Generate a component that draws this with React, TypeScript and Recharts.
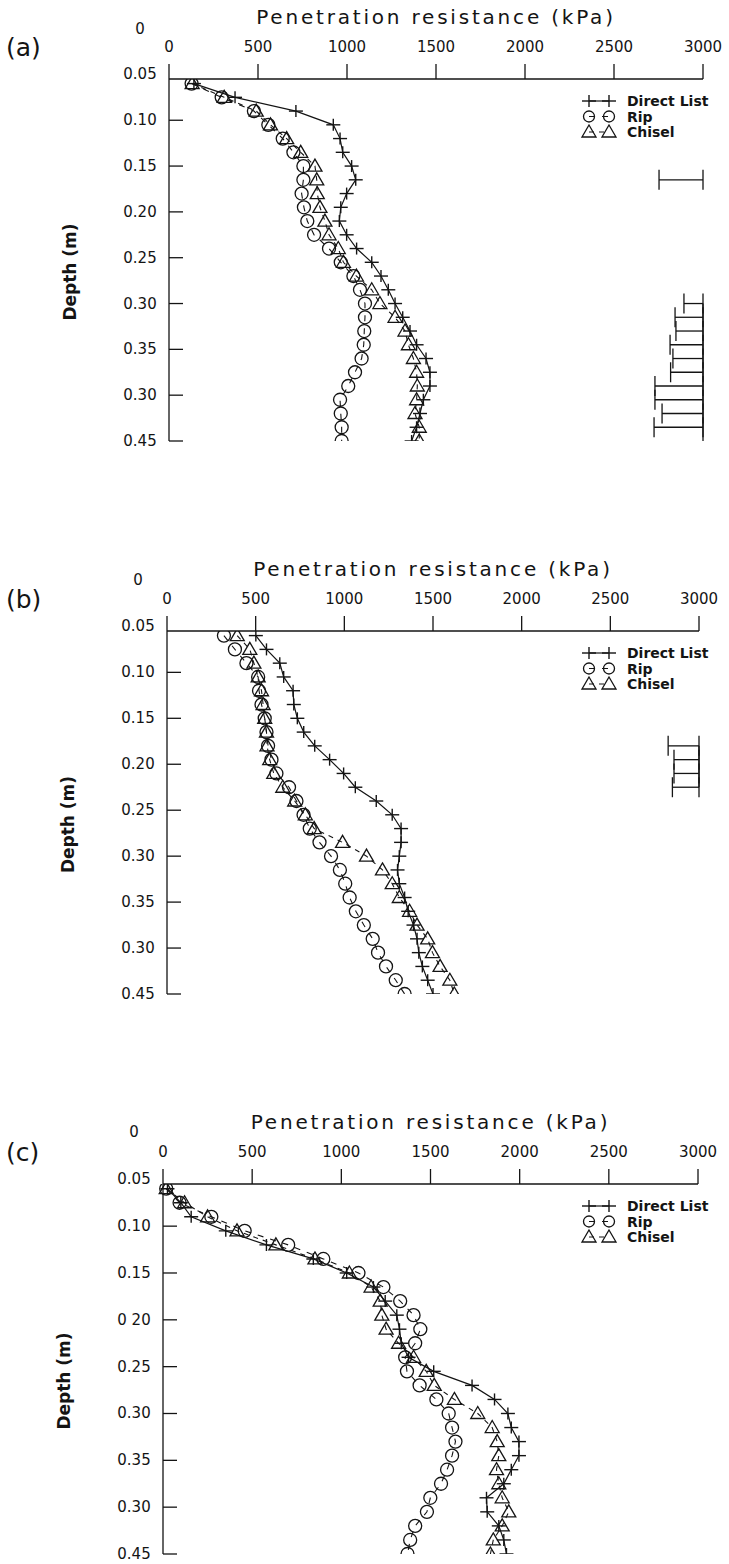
import React from 'react';
import { ScatterChart, Scatter, XAxis, YAxis, ErrorBar, ReferenceLine, Legend } from 'recharts';

const FONT = '"DejaVu Sans", "Liberation Sans", sans-serif';
const INK = '#141414';

// Sampling depths (m) shared by every profile
const depths = [0.06, 0.075, 0.09, 0.105, 0.12, 0.135, 0.15, 0.165, 0.18, 0.195, 0.21, 0.225, 0.24, 0.255,
  0.27, 0.285, 0.30, 0.315, 0.33, 0.345, 0.36, 0.375, 0.39, 0.405, 0.42, 0.435, 0.45];

const seriesNames = ['Direct List', 'Rip', 'Chisel'];
const resistanceTicks = [0, 500, 1000, 1500, 2000, 2500, 3000];
const depthTicks = [0, 0.05, 0.1, 0.15, 0.2, 0.25, 0.3, 0.35, 0.4, 0.45];
const depthTickLabelsAB = ['0', '0.05', '0.10', '0.15', '0.20', '0.25', '0.30', '0.35', '0.30', '0.45'];
const depthTickLabelsC = ['0', '0.05', '0.10', '0.15', '0 20', '0.25', '0.30', '0.35', '0.30', '0.45'];

// (a) penetration resistance, kPa
const aDirectList = [140, 371, 713, 923, 961, 976, 1026, 1049, 998, 965, 957, 998, 1054, 1139, 1191, 1232, 1270,
  1313, 1354, 1391, 1444, 1466, 1466, 1429, 1410, 1391, 1363];
const aRip = [127, 296, 477, 558, 639, 699, 755, 755, 745, 758, 777, 815, 899, 965, 1036, 1073, 1101, 1101, 1097,
  1094, 1082, 1045, 1007, 961, 965, 970, 970];
const aChisel = [130, 310, 490, 570, 661, 740, 820, 830, 833, 848, 876, 899, 951, 980, 1053, 1139, 1185, 1270, 1326,
  1345, 1373, 1391, 1395, 1391, 1382, 1406, 1406];
const aLsdDepths = [0.165, 0.30, 0.315, 0.33, 0.345, 0.36, 0.375, 0.39, 0.405, 0.42, 0.435];
const aLsdWidths = [247, 107, 157, 152, 185, 169, 182, 270, 270, 230, 275];
const aLsdSpan = [0.30, 0.45];

// (b)
const bDirectList = [501, 561, 636, 658, 711, 715, 735, 771, 833, 917, 996, 1062, 1180, 1270, 1320, 1320, 1310,
  1300, 1310, 1340, 1360, 1390, 1410, 1420, 1440, 1470, 1500];
const bRip = [321, 383, 448, 514, 519, 533, 551, 561, 570, 589, 617, 688, 730, 770, 805, 860, 925, 975, 1005, 1030,
  1065, 1110, 1160, 1190, 1235, 1290, 1340];
const bChisel = [396, 467, 490, 514, 533, 542, 551, 561, 564, 579, 602, 653, 720, 780, 830, 990, 1125, 1215, 1270,
  1310, 1368, 1410, 1470, 1497, 1540, 1595, 1620];
const bLsdDepths = [0.18, 0.195, 0.21, 0.225];
const bLsdWidths = [174, 141, 141, 150];
const bLsdSpan = [0.18, 0.225];

// (c)
const cDirectList = [25, 100, 158, 352, 580, 843, 1030, 1180, 1246, 1311, 1326, 1336, 1377, 1518, 1733, 1859, 1934,
  1953, 1996, 1996, 1953, 1911, 1814, 1818, 1883, 1911, 1926];
const cRip = [18, 93, 271, 458, 702, 899, 1096, 1236, 1330, 1405, 1443, 1414, 1358, 1368, 1439, 1533, 1602, 1621,
  1640, 1621, 1593, 1559, 1499, 1480, 1414, 1386, 1371];
const cChisel = [18, 121, 250, 415, 633, 852, 1045, 1167, 1218, 1227, 1251, 1321, 1405, 1476, 1521, 1634, 1765, 1846,
  1874, 1883, 1870, 1883, 1902, 1939, 1902, 1852, 1836];

const CrossMark = (p: any) => (
  <g stroke={INK} strokeWidth={1.4}>
    <line x1={p.cx - 7} x2={p.cx + 7} y1={p.cy} y2={p.cy} />
    <line x1={p.cx} x2={p.cx} y1={p.cy - 6} y2={p.cy + 6} />
  </g>
);
const CircleMark = (p: any) => (
  <circle cx={p.cx} cy={p.cy} r={p.r ?? 6.5} fill="none" stroke={INK} strokeWidth={1.3} />
);
const TriangleMark = (p: any) => (
  <path d={`M${p.cx},${p.cy - 7} L${p.cx + 7},${p.cy + 5} L${p.cx - 7},${p.cy + 5} Z`} fill="none" stroke={INK}
    strokeWidth={1.3} strokeLinejoin="miter" />
);
const EmptyMark = () => <g />;

const seriesStyles: Record<string, { Mark: any; dash?: string; width: number }> = {
  'Direct List': { Mark: CrossMark, width: 1.2 },
  Rip: { Mark: CircleMark, dash: '6 7', width: 1.1 },
  Chisel: { Mark: TriangleMark, dash: '5 5', width: 1.1 },
};

const panels = [
  { key: 'a', letter: '(a)', top: 0, plotLeft: 169, plotRight: 703, plotHeight: 362,
    directList: aDirectList, rip: aRip, chisel: aChisel,
    lsdDepths: aLsdDepths, lsdWidths: aLsdWidths, lsdSpan: aLsdSpan, tickLabels: depthTickLabelsAB },
  { key: 'b', letter: '(b)', top: 552, plotLeft: 167, plotRight: 699, plotHeight: 363,
    directList: bDirectList, rip: bRip, chisel: bChisel,
    lsdDepths: bLsdDepths, lsdWidths: bLsdWidths, lsdSpan: bLsdSpan, tickLabels: depthTickLabelsAB },
  { key: 'c', letter: '(c)', top: 1105, plotLeft: 163, plotRight: 698, plotHeight: 370,
    directList: cDirectList, rip: cRip, chisel: cChisel,
    lsdDepths: [] as number[], lsdWidths: [] as number[], lsdSpan: null as number[] | null, tickLabels: depthTickLabelsC },
];

const AXIS_TOP = 79;
const Y_AXIS_WIDTH = 120;

function DepthTick(props: any) {
  const { x, y, payload, labels } = props;
  const idx = depthTicks.indexOf(payload.value);
  const inside = payload.value > 0.055;
  return (
    <g>
      {inside && <line x1={x} x2={x + 14} y1={y} y2={y} stroke={INK} strokeWidth={1.3} />}
      <text x={x - 29} y={y} textAnchor="middle" dominantBaseline="central" fontSize={15} fontFamily={FONT}
        fill={INK}>{labels[idx]}</text>
    </g>
  );
}

const depthLabel = (props: any) => {
  const vb = props.viewBox;
  const x = vb.x + vb.width - 99;
  const y = vb.y + vb.height / 2 + 12;
  return (
    <text x={x} y={y} transform={`rotate(-90 ${x} ${y})`} textAnchor="middle" dominantBaseline="central"
      fontSize={17} fontWeight={600} fontFamily={FONT} fill={INK}>Depth (m)</text>
  );
};

const renderLegend = (props: any) => {
  const entries = (props.payload || [])
    .filter((e: any) => seriesStyles[e.value])
    .sort((a: any, b: any) => seriesNames.indexOf(a.value) - seriesNames.indexOf(b.value));
  return (
    <svg width={151} height={50} style={{ display: 'block' }}>
      {entries.map((e: any, i: number) => {
        const s = seriesStyles[e.value];
        const cy = 11 + i * 15.5;
        const M = s.Mark;
        return (
          <g key={e.value}>
            <line x1={11} x2={31} y1={cy} y2={cy} stroke={INK} strokeWidth={s.width} strokeDasharray={s.dash} />
            <M cx={11} cy={cy} r={5.5} />
            <M cx={31} cy={cy} r={5.5} />
            <text x={49} y={cy} dominantBaseline="central" fontSize={14} fontWeight={600} fontFamily={FONT}
              fill={INK}>{e.value}</text>
          </g>
        );
      })}
    </svg>
  );
};

function Panel({ cfg }: { cfg: (typeof panels)[number] }) {
  const height = AXIS_TOP + cfg.plotHeight + 10;
  const toPoints = (vals: number[]) => vals.map((v, i) => ({ x: v, y: depths[i] }));
  const lsdRows = cfg.lsdDepths.map((d, i) => ({ x: 3000 - cfg.lsdWidths[i] / 2, y: d, half: cfg.lsdWidths[i] / 2 }));
  const lineProps = (name: string) => ({
    stroke: INK,
    strokeWidth: seriesStyles[name].width,
    strokeDasharray: seriesStyles[name].dash,
  });
  return (
    <div style={{ position: 'absolute', left: 0, top: cfg.top, width: 729, height }}>
      <ScatterChart width={729} height={height}
        margin={{ top: 0, right: 729 - cfg.plotRight, bottom: 10, left: cfg.plotLeft - Y_AXIS_WIDTH }}>
        <XAxis type="number" dataKey="x" orientation="top" domain={[0, 3000]} ticks={resistanceTicks} interval={0}
          height={AXIS_TOP} tickSize={15} tickMargin={12}
          axisLine={{ stroke: INK, strokeWidth: 1.3 }} tickLine={{ stroke: INK, strokeWidth: 1.3 }}
          tick={{ fill: INK, fontSize: 15, fontFamily: FONT }}
          label={{ value: 'Penetration resistance (kPa)', position: 'insideTop', offset: 10, fontSize: 20,
            fontFamily: FONT, fill: INK, letterSpacing: 2.8 }} />
        <YAxis type="number" dataKey="y" reversed domain={[0.055, 0.45]} allowDataOverflow ticks={depthTicks}
          interval={0} width={Y_AXIS_WIDTH} tickSize={0} tickMargin={0} tickLine={false}
          axisLine={{ stroke: INK, strokeWidth: 1.3 }}
          tick={(p: any) => <DepthTick {...p} labels={cfg.tickLabels} />}
          label={depthLabel} />
        <Legend layout="vertical" align="center" verticalAlign="middle" content={renderLegend}
          wrapperStyle={{ left: 578, top: 90, width: 151, height: 50 }} />
        {cfg.lsdSpan && (
          <ReferenceLine segment={[{ x: 3000, y: cfg.lsdSpan[0] }, { x: 3000, y: cfg.lsdSpan[1] }]}
            stroke={INK} strokeWidth={1.3} ifOverflow="visible" />
        )}
        <Scatter name="Direct List" data={toPoints(cfg.directList)} fill={INK} shape={CrossMark}
          line={lineProps('Direct List')} lineType="joint" isAnimationActive={false} />
        <Scatter name="Rip" data={toPoints(cfg.rip)} fill={INK} shape={CircleMark}
          line={lineProps('Rip')} lineType="joint" isAnimationActive={false} />
        <Scatter name="Chisel" data={toPoints(cfg.chisel)} fill={INK} shape={TriangleMark}
          line={lineProps('Chisel')} lineType="joint" isAnimationActive={false} />
        {lsdRows.length > 0 && (
          <Scatter name="LSD" data={lsdRows} fill={INK} shape={EmptyMark} legendType="none" isAnimationActive={false}>
            <ErrorBar dataKey="half" direction="x" width={10} stroke={INK} strokeWidth={1.3}
              isAnimationActive={false} />
          </Scatter>
        )}
      </ScatterChart>
      <div style={{ position: 'absolute', left: 6, top: 34, fontFamily: FONT, fontSize: 25, lineHeight: '28px',
        color: INK }}>{cfg.letter}</div>
    </div>
  );
}

export default function App() {
  return (
    <div style={{ position: 'absolute', left: 0, top: 0, width: 729, height: 1564, background: '#fff',
      overflow: 'hidden' }}>
      {panels.map((cfg) => <Panel key={cfg.key} cfg={cfg} />)}
    </div>
  );
}
